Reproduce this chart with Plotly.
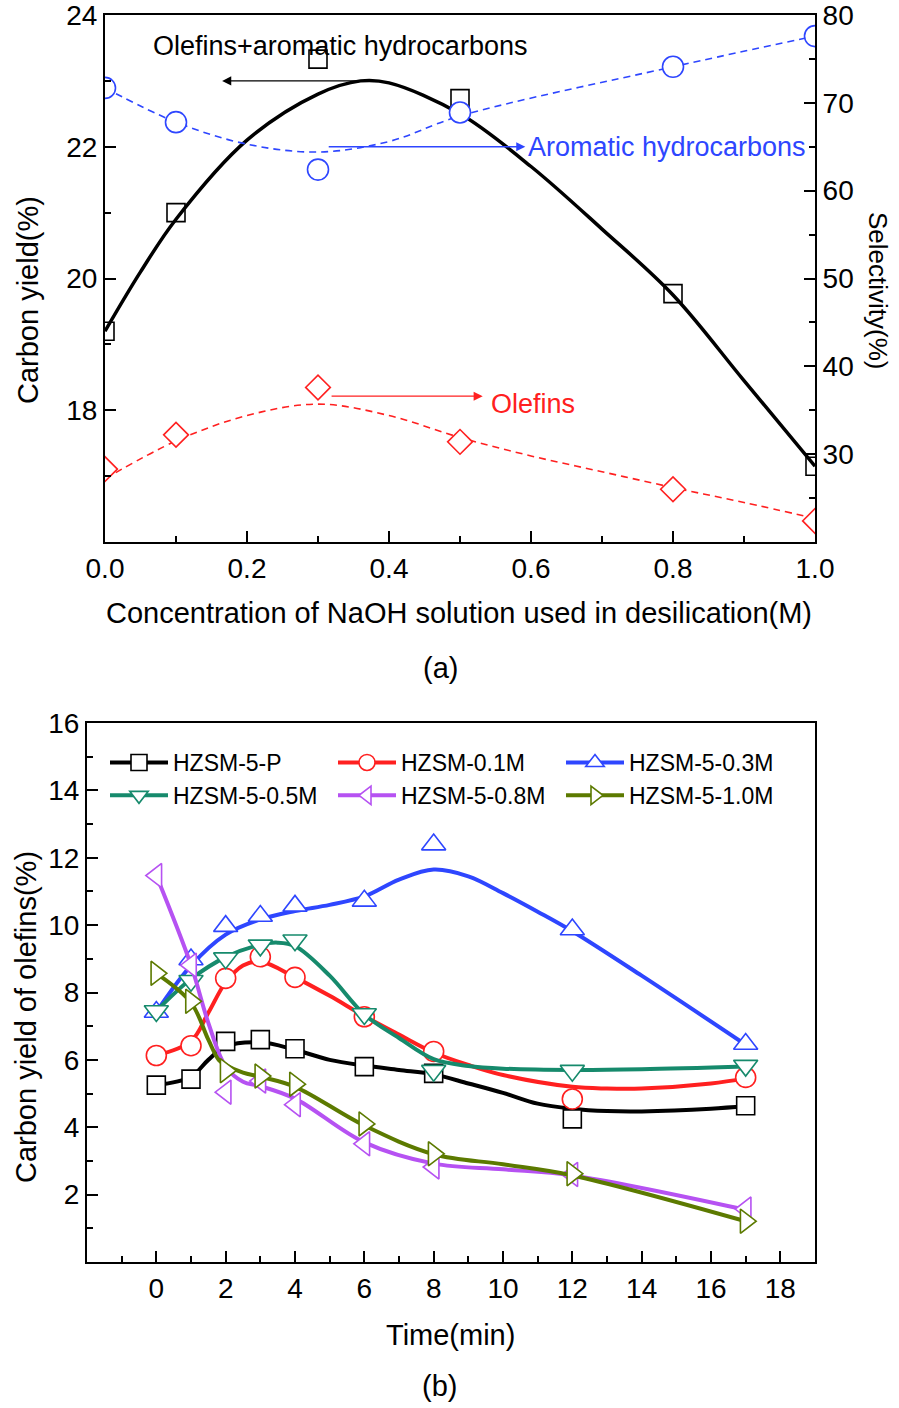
import plotly.graph_objects as go

W, H = 899, 1408
FONT = "Liberation Sans, Arial, sans-serif"

# ---------------- (a) data ----------------
naoh = [0.0, 0.1, 0.3, 0.5, 0.8, 1.0]
carbon_yield = [19.2, 21.0, 23.33, 22.73, 19.77, 17.15]
arom_sel = [71.7, 67.8, 62.4, 68.9, 74.1, 77.6]
olef_sel = [28.3, 32.2, 37.6, 31.4, 26.0, 22.4]

# fitted curves
yield_fit_x = [0, 0.05, 0.1, 0.2, 0.3, 0.36, 0.4, 0.5, 0.6, 0.7, 0.8, 0.9, 1.0]
yield_fit = [19.2, 20.1, 20.9, 22.1, 22.8, 23.0, 22.97, 22.5, 21.7, 20.75, 19.75, 18.45, 17.15]
arom_fit_x = [0, 0.1, 0.2, 0.3, 0.4, 0.5, 0.8, 1.0]
arom_fit = [71.7, 67.8, 65.3, 64.4, 65.6, 68.5, 74.1, 77.6]
olef_fit_x = [0, 0.1, 0.2, 0.3, 0.4, 0.5, 0.6, 0.7, 0.8, 0.9, 1.0]
olef_fit = [27.2, 31.5, 34.4, 35.7, 34.4, 31.9, 29.8, 28.0, 26.2, 24.5, 22.7]

# ---------------- (b) data ----------------
time = [0, 1, 2, 3, 4, 6, 8, 12, 17]
series_names = ["HZSM-5-P", "HZSM-0.1M", "HZSM-5-0.3M", "HZSM-5-0.5M", "HZSM-5-0.8M", "HZSM-5-1.0M"]
y_p = [5.25, 5.43, 6.55, 6.6, 6.33, 5.8, 5.6, 4.25, 4.64]
y_01 = [6.13, 6.42, 8.42, 9.06, 8.45, 7.28, 6.25, 4.84, 5.48]
y_03 = [7.42, 8.98, 9.97, 10.27, 10.57, 10.72, 12.39, 9.87, 6.47]
y_05 = [7.45, 8.35, 9.02, 9.4, 9.55, 7.36, 5.68, 5.68, 5.83]
y_08 = [11.47, 8.81, 5.04, 5.37, 4.67, 3.51, 2.82, 2.6, 1.57]
y_10 = [8.57, 7.74, 5.68, 5.52, 5.28, 4.1, 3.21, 2.62, 1.21]

# smoothed curves
fit_p_t = [0, 1, 1.5, 2, 3, 4, 5, 6, 7, 8, 9, 10, 11, 12, 13, 14, 16, 17]
fit_p = [5.25, 5.5, 6.0, 6.4, 6.52, 6.3, 6.0, 5.83, 5.7, 5.57, 5.3, 5.02, 4.7, 4.55, 4.48, 4.47, 4.55, 4.63]
fit_01_t = [0, 1, 1.5, 2, 2.5, 3, 4, 5, 6, 7, 8, 9, 10, 12, 13, 14, 16, 17]
fit_01 = [6.13, 6.55, 7.4, 8.3, 8.8, 8.92, 8.45, 7.9, 7.3, 6.75, 6.22, 5.85, 5.55, 5.2, 5.15, 5.15, 5.3, 5.45]
fit_03_t = [0, 1, 2, 3, 4, 5, 6, 7, 8, 9, 10, 11, 12, 14, 17]
fit_03 = [7.42, 8.8, 9.72, 10.17, 10.42, 10.6, 10.85, 11.35, 11.65, 11.45, 10.95, 10.4, 9.82, 8.5, 6.45]
fit_05_t = [0, 1, 2, 3, 3.5, 4, 5, 6, 7, 8, 9, 10, 12, 14, 17]
fit_05 = [7.45, 8.4, 9.05, 9.42, 9.48, 9.38, 8.5, 7.35, 6.65, 6.02, 5.82, 5.74, 5.7, 5.72, 5.8]
fit_08_t = [0, 1, 1.5, 2, 2.5, 3, 4, 6, 8, 10, 12, 17]
fit_08 = [11.47, 8.81, 7.1, 5.8, 5.35, 5.22, 4.85, 3.55, 2.92, 2.75, 2.57, 1.55]
fit_10_t = [0, 1, 1.5, 1.8, 2, 2.5, 3, 4, 6, 8, 10, 12, 17]
fit_10 = [8.57, 7.7, 6.6, 6.0, 5.85, 5.62, 5.5, 5.2, 4.05, 3.2, 2.9, 2.57, 1.21]

colors = ["#000000", "#ff2020", "#2e46ff", "#168a6c", "#b652f2", "#5c7a00"]
symbols = ["square", "circle", "triangle-up", "triangle-down", "triangle-left", "triangle-right"]
msizes = [18, 20, 21, 21, 21, 21]


def px(x):
    return x / W


def py(y):
    return 1 - y / H


fig = go.Figure()

# ---------- panel (a) ----------
fig.add_trace(go.Scatter(x=yield_fit_x, y=yield_fit, mode="lines", line=dict(color="black", width=3.5, shape="spline"),
                         xaxis="x", yaxis="y", showlegend=False))
fig.add_trace(go.Scatter(x=naoh, y=carbon_yield, mode="markers",
                         marker=dict(symbol="square", size=18, color="rgba(255,255,255,0)", line=dict(color="black", width=1.6)),
                         xaxis="x", yaxis="y", showlegend=False))
fig.add_trace(go.Scatter(x=arom_fit_x, y=arom_fit, mode="lines",
                         line=dict(color="#2e46ff", width=1.6, dash="7px,5px", shape="spline"),
                         xaxis="x", yaxis="y2", showlegend=False))
fig.add_trace(go.Scatter(x=naoh, y=arom_sel, mode="markers",
                         marker=dict(symbol="circle", size=21, color="white", line=dict(color="#2e46ff", width=1.6)),
                         xaxis="x", yaxis="y2", showlegend=False))
fig.add_trace(go.Scatter(x=olef_fit_x, y=olef_fit, mode="lines",
                         line=dict(color="#ff2020", width=1.6, dash="7px,5px", shape="spline"),
                         xaxis="x", yaxis="y2", showlegend=False))
fig.add_trace(go.Scatter(x=naoh, y=olef_sel, mode="markers",
                         marker=dict(symbol="diamond", size=19, color="white", line=dict(color="#ff2020", width=1.6)),
                         xaxis="x", yaxis="y2", showlegend=False))

# ---------- panel (b) ----------
b_markers = [y_p, y_01, y_03, y_05, y_08, y_10]
b_fit_t = [fit_p_t, fit_01_t, fit_03_t, fit_05_t, fit_08_t, fit_10_t]
b_fit = [fit_p, fit_01, fit_03, fit_05, fit_08, fit_10]
for i in range(6):
    fig.add_trace(go.Scatter(x=b_fit_t[i], y=b_fit[i], mode="lines",
                             line=dict(color=colors[i], width=4, shape="spline"),
                             xaxis="x2", yaxis="y3", showlegend=False))
    fig.add_trace(go.Scatter(x=time, y=b_markers[i], mode="markers",
                             marker=dict(symbol=symbols[i], size=msizes[i], color="white",
                                         line=dict(color=colors[i], width=1.6)),
                             xaxis="x2", yaxis="y3", showlegend=False))
for i in range(6):
    fig.add_trace(go.Scatter(x=[None], y=[None], mode="lines+markers", name=series_names[i],
                             line=dict(color=colors[i], width=4),
                             marker=dict(symbol=symbols[i], size=16, color="white",
                                         line=dict(color=colors[i], width=1.6)),
                             xaxis="x2", yaxis="y3", showlegend=True))

axis_common = dict(showline=True, linewidth=2, linecolor="black", ticks="inside", ticklen=11, tickwidth=2,
                   tickcolor="black", showgrid=False, zeroline=False, ticklabeloverflow="allow",
                   tickfont=dict(family=FONT, size=28, color="black"), automargin=False)
minor_common = dict(ticks="inside", ticklen=6, tickwidth=2, tickcolor="black")

fig.update_layout(
    width=W, height=H, margin=dict(l=0, r=0, t=0, b=0),
    paper_bgcolor="white", plot_bgcolor="white",
    font=dict(family=FONT, color="black"),
    xaxis=dict(domain=[px(105), px(815)], anchor="y", range=[0, 1], tickvals=[0, 0.2, 0.4, 0.6, 0.8, 1.0],
               tickformat=".1f", mirror=True,
               minor=dict(tickvals=[0.1, 0.3, 0.5, 0.7, 0.9], **minor_common), **axis_common),
    yaxis=dict(domain=[py(542), py(15)], anchor="x", range=[16, 24], tickvals=[18, 20, 22, 24],
               minor=dict(tickvals=[17, 19, 21, 23], **minor_common), **axis_common),
    yaxis2=dict(overlaying="y", side="right", anchor="x", range=[20, 80], tickvals=[30, 40, 50, 60, 70, 80],
                minor=dict(tickvals=[25, 35, 45, 55, 65, 75], **minor_common), **axis_common),
    xaxis2=dict(domain=[px(87), px(815)], anchor="y3", range=[-2, 19], tickvals=list(range(0, 19, 2)), mirror=True,
                minor=dict(tickvals=[-1, 1, 3, 5, 7, 9, 11, 13, 15, 17], **minor_common), **axis_common),
    yaxis3=dict(domain=[py(1262), py(723)], anchor="x2", range=[0, 16], tickvals=list(range(2, 17, 2)), mirror=True,
                minor=dict(tickvals=[1, 3, 5, 7, 9, 11, 13, 15], **minor_common), **axis_common),
    legend=dict(orientation="h", x=px(105), y=py(741), xanchor="left", yanchor="top",
                entrywidth=155, entrywidthmode="pixels", font=dict(family=FONT, size=23, color="black"),
                bgcolor="rgba(0,0,0,0)", traceorder="normal", itemwidth=58, tracegroupgap=0),
)

ann = []


def text(x, y, s, size, color="black", angle=0, xanchor="center"):
    ann.append(dict(x=px(x), y=py(y), xref="paper", yref="paper", text=s, showarrow=False, textangle=angle,
                    xanchor=xanchor, yanchor="middle", font=dict(family=FONT, size=size, color=color)))


# axis titles and panel labels
text(28, 300, "Carbon yield(%)", 29, angle=-90)
text(878, 290, "Selectivity(%)", 26, angle=90)
text(459, 613, "Concentration of NaOH solution used in desilication(M)", 29)
text(440, 668, "(a)", 29)
text(26, 1017, "Carbon yield of olefins(%)", 29, angle=-90)
text(450, 1335, "Time(min)", 29)
text(439, 1386, "(b)", 29)

# in-plot labels for panel (a)
text(340, 46, "Olefins+aromatic hydrocarbons", 27)
text(526, 147, "Aromatic hydrocarbons", 27, color="#2e46ff", xanchor="left")
text(489, 404, "Olefins", 27, color="#ff2020", xanchor="left")

# arrows (panel a)
ann.append(dict(x=0.165, y=23.0, ax=0.36, ay=23.0, xref="x", yref="y", axref="x", ayref="y", text="",
                showarrow=True, arrowhead=2, arrowsize=1.4, arrowwidth=1.3, arrowcolor="black"))
ann.append(dict(x=0.592, y=65, ax=0.313, ay=65, xref="x", yref="y2", axref="x", ayref="y2", text="",
                showarrow=True, arrowhead=2, arrowsize=1.4, arrowwidth=1.3, arrowcolor="#2e46ff"))
ann.append(dict(x=0.532, y=36.6, ax=0.317, ay=36.6, xref="x", yref="y2", axref="x", ayref="y2", text="",
                showarrow=True, arrowhead=2, arrowsize=1.4, arrowwidth=1.3, arrowcolor="#ff2020"))

fig.update_layout(annotations=ann)
# remove the browser's default page margin so the figure sits at the window origin; hide the mode bar
fig.write_html("out.html", config={"displayModeBar": False},
               post_script="document.body.style.margin='0';")
